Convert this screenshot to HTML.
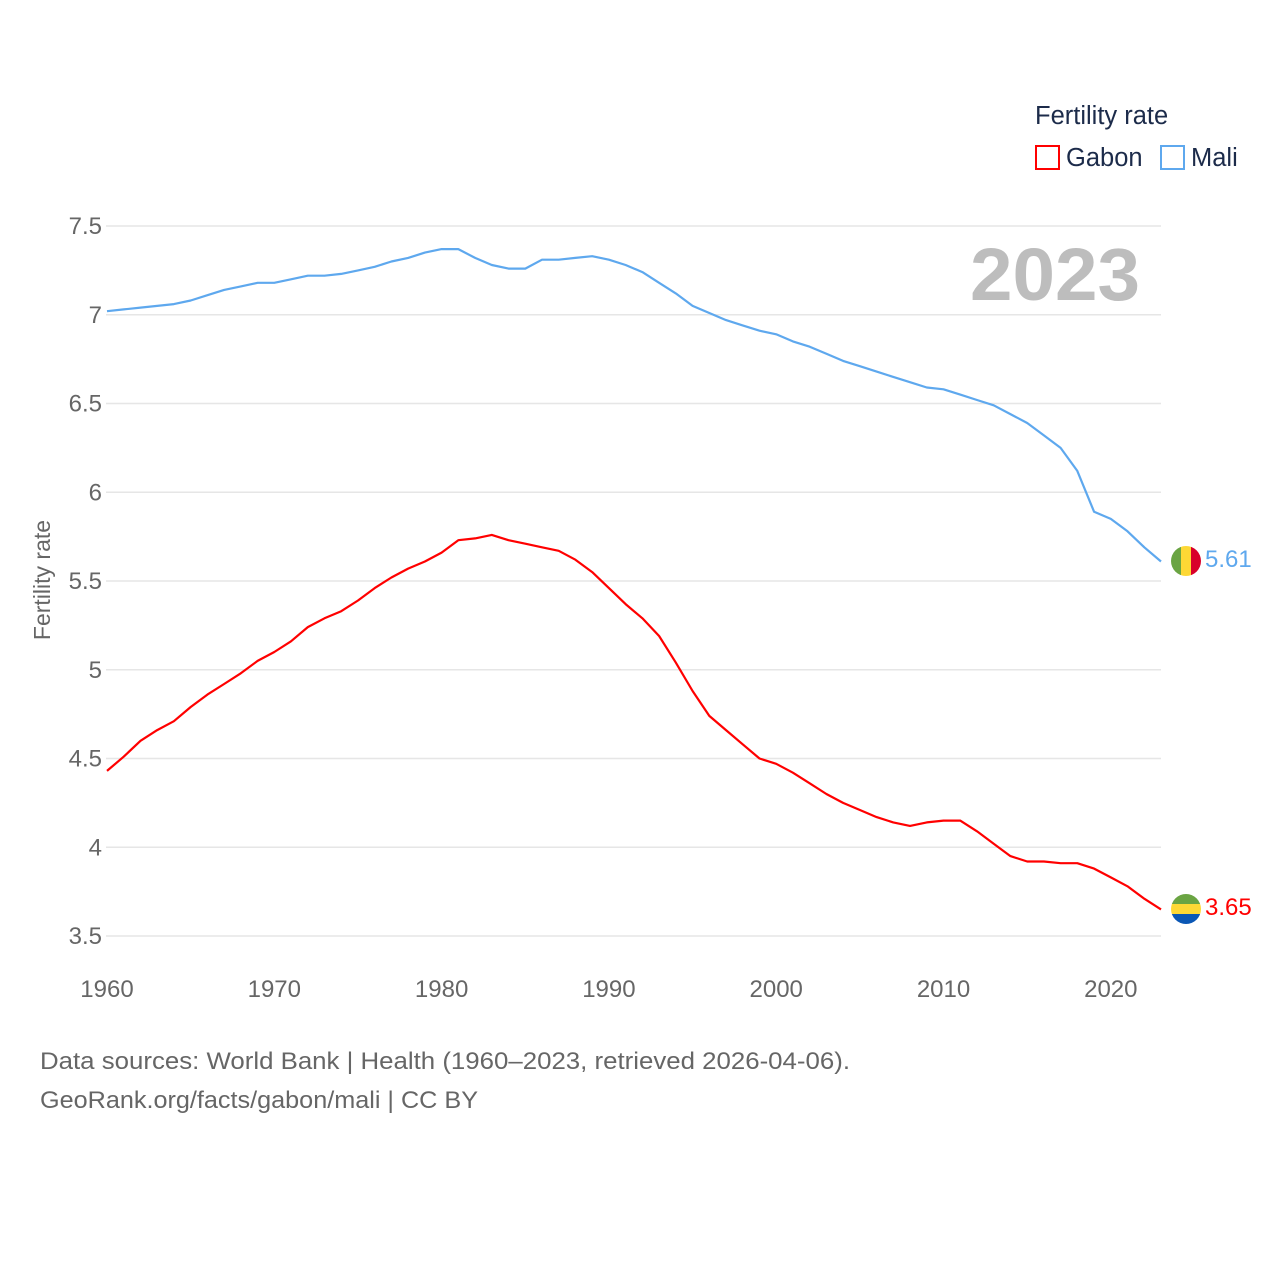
<!DOCTYPE html>
<html><head><meta charset="utf-8">
<style>
html,body{margin:0;padding:0;background:#fff;}
body{width:1280px;height:1280px;overflow:hidden;font-family:"Liberation Sans",sans-serif;}
</style></head>
<body>
<svg id="chart" width="1280" height="1280" xmlns="http://www.w3.org/2000/svg" font-family="'Liberation Sans', sans-serif">
  <g id="grid"></g>
  <g id="yticks"></g>
  <g id="xticks"></g>
  <text x="1140" y="300" text-anchor="end" font-size="74" font-weight="bold" fill="#bdbdbd" textLength="170" lengthAdjust="spacingAndGlyphs">2023</text>
  <text transform="translate(50,580) rotate(-90)" text-anchor="middle" font-size="23" fill="#666">Fertility rate</text>
  <g id="series"></g>
  <g>
    <clipPath id="cm"><circle cx="1186" cy="561" r="15"/></clipPath>
    <g clip-path="url(#cm)">
      <rect x="1171" y="546" width="10" height="30" fill="#6aa443"/>
      <rect x="1181" y="546" width="10" height="30" fill="#fdd835"/>
      <rect x="1191" y="546" width="10" height="30" fill="#d8002a"/>
    </g>
  </g>
  <g>
    <clipPath id="cg"><circle cx="1186" cy="909" r="15"/></clipPath>
    <g clip-path="url(#cg)">
      <rect x="1171" y="894" width="30" height="10" fill="#6aa443"/>
      <rect x="1171" y="904" width="30" height="10" fill="#fdd835"/>
      <rect x="1171" y="914" width="30" height="10" fill="#0a57b5"/>
    </g>
  </g>
  <text x="1205" y="567" font-size="24" fill="#5ea8ee">5.61</text>
  <text x="1205" y="915" font-size="24" fill="#f00">3.65</text>
  <text x="1035" y="124" font-size="25.5" fill="#1c2b4a">Fertility rate</text>
  <g>
    <rect x="1036" y="146" width="23" height="23" fill="none" stroke="#f00" stroke-width="2"/>
    <text x="1066" y="166" font-size="25.5" fill="#1c2b4a">Gabon</text>
  </g>
  <g>
    <rect x="1161" y="146" width="23" height="23" fill="none" stroke="#5ea8ee" stroke-width="2"/>
    <text x="1191" y="166" font-size="25.5" fill="#1c2b4a">Mali</text>
  </g>
  <text x="40" y="1069" font-size="24" fill="#666" textLength="810" lengthAdjust="spacingAndGlyphs">Data sources: World Bank | Health (1960–2023, retrieved 2026-04-06).</text>
  <text x="40" y="1108" font-size="24" fill="#666" textLength="438" lengthAdjust="spacingAndGlyphs">GeoRank.org/facts/gabon/mali | CC BY</text>
</svg>
<script>
const years = [];
for (let y = 1960; y <= 2023; y++) years.push(y);
const mali = [7.02,7.03,7.04,7.05,7.06,7.08,7.11,7.14,7.16,7.18,7.18,7.20,7.22,7.22,7.23,7.25,7.27,7.30,7.32,7.35,7.37,7.37,7.32,7.28,7.26,7.26,7.31,7.31,7.32,7.33,7.31,7.28,7.24,7.18,7.12,7.05,7.01,6.97,6.94,6.91,6.89,6.85,6.82,6.78,6.74,6.71,6.68,6.65,6.62,6.59,6.58,6.55,6.52,6.49,6.44,6.39,6.32,6.25,6.12,5.89,5.85,5.78,5.69,5.61];
const gabon = [4.43,4.51,4.60,4.66,4.71,4.79,4.86,4.92,4.98,5.05,5.10,5.16,5.24,5.29,5.33,5.39,5.46,5.52,5.57,5.61,5.66,5.73,5.74,5.76,5.73,5.71,5.69,5.67,5.62,5.55,5.46,5.37,5.29,5.19,5.04,4.88,4.74,4.66,4.58,4.50,4.47,4.42,4.36,4.30,4.25,4.21,4.17,4.14,4.12,4.14,4.15,4.15,4.09,4.02,3.95,3.92,3.92,3.91,3.91,3.88,3.83,3.78,3.71,3.65];
const yTickVals = [3.5,4,4.5,5,5.5,6,6.5,7,7.5];
const yTickLabels = ["3.5","4","4.5","5","5.5","6","6.5","7","7.5"];
const xTickVals = [1960,1970,1980,1990,2000,2010,2020];

const NS = "http://www.w3.org/2000/svg";
function xScale(yr){ return 107 + (yr - 1960) * (1161 - 107) / 63; }
function yScale(v){ return 936 - (v - 3.5) * (936 - 226) / 4; }
function mk(tag, attrs){ const e = document.createElementNS(NS, tag); for (const k in attrs) e.setAttribute(k, attrs[k]); return e; }

const grid = document.getElementById('grid');
const yt = document.getElementById('yticks');
yTickVals.forEach((v, i) => {
  const l = mk('line', {x1:106, x2:1161, y1:yScale(v), y2:yScale(v), stroke:'#e6e6e6', 'stroke-width':1.5});
  
  
  grid.appendChild(l);
  const t = mk('text', {x:102, y:yScale(v)+8, 'text-anchor':'end', 'font-size':24, fill:'#666'});
  t.textContent = yTickLabels[i];
  
  
  yt.appendChild(t);
});
const xt = document.getElementById('xticks');
xTickVals.forEach(v => {
  const t = mk('text', {x:xScale(v), y:997, 'text-anchor':'middle', 'font-size':24, fill:'#666'});
  t.textContent = String(v);
  
  
  xt.appendChild(t);
});
const series = document.getElementById('series');
function drawLine(vals, color, name){
  const d = vals.map((v, i) => (i ? 'L' : 'M') + xScale(years[i]).toFixed(1) + ',' + yScale(v).toFixed(1)).join(' ');
  const p = mk('path', {d:d, fill:'none', stroke:color, 'stroke-width':2.2, 'stroke-linejoin':'round'});
  
  
  series.appendChild(p);
}
drawLine(mali, '#5ea8ee', 'mali-line');
drawLine(gabon, '#ff0000', 'gabon-line');
</script>
</body></html>
